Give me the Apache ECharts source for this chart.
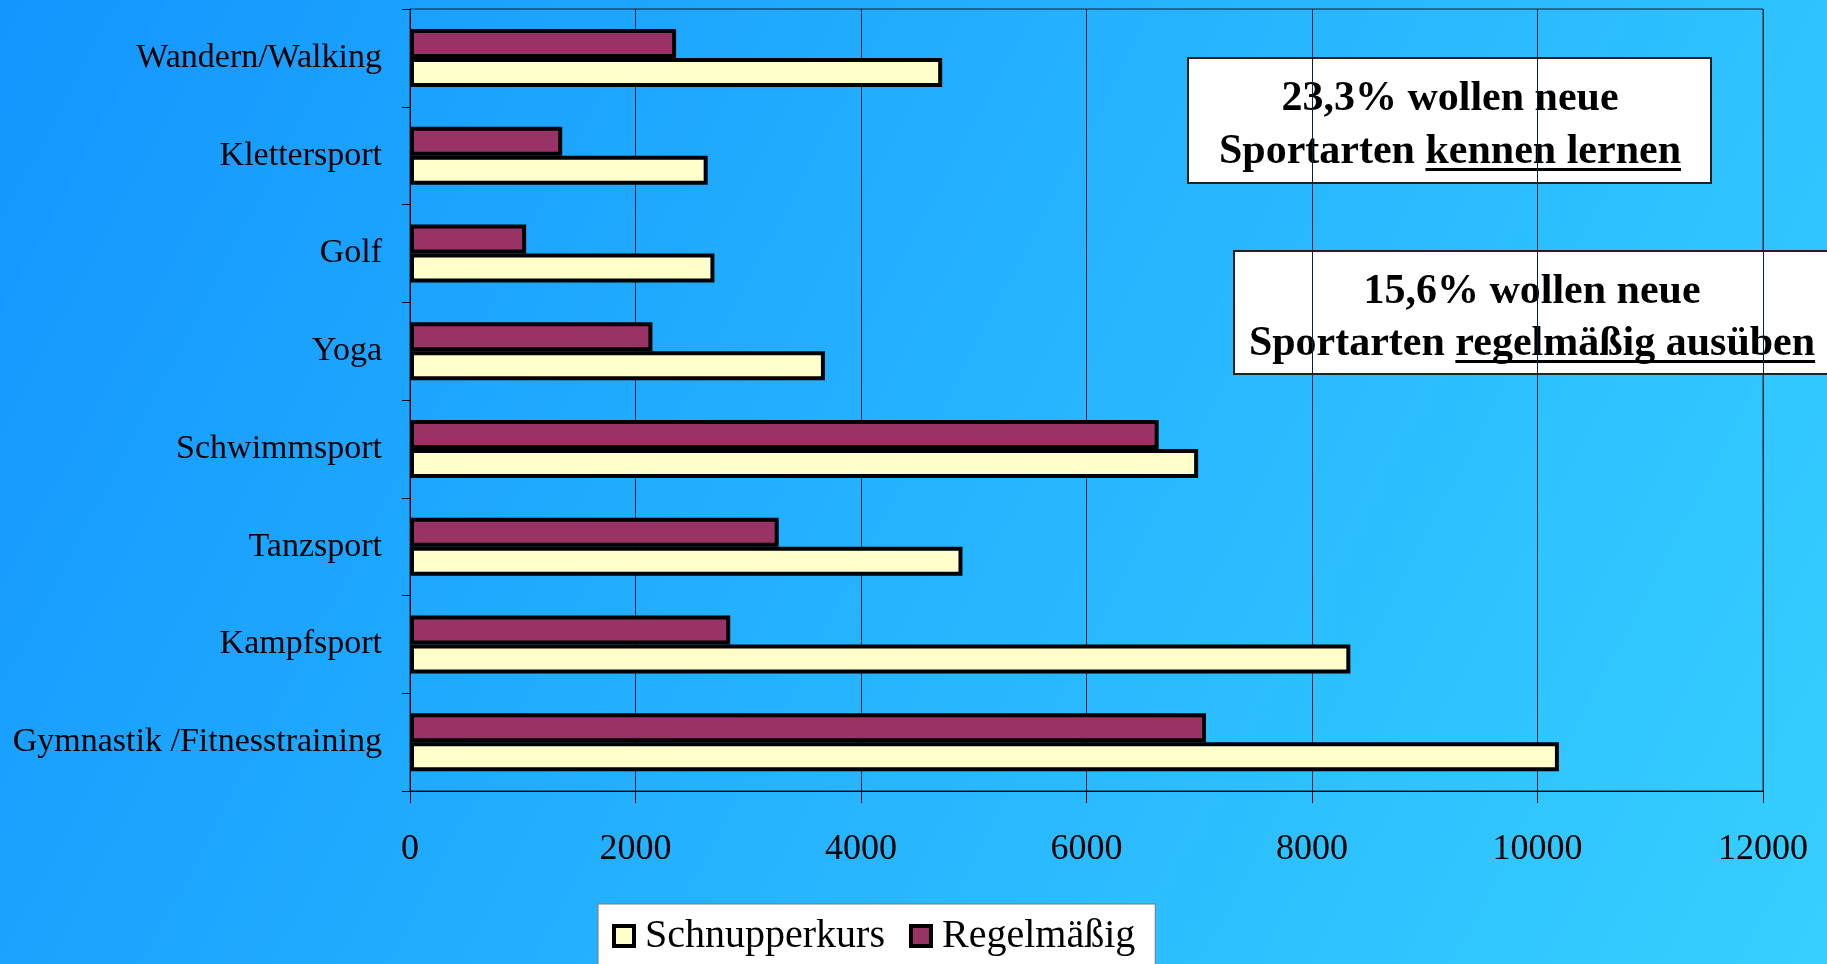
<!DOCTYPE html>
<html>
<head>
<meta charset="utf-8">
<title>Sportarten</title>
<script src="https://cdn.jsdelivr.net/npm/echarts@6/dist/echarts.min.js"></script>
<style>
  html, body { margin: 0; padding: 0; }
  #chart { width: 1827px; height: 964px; }
</style>
</head>
<body>
<div id="chart"></div>
<script>
// Kategorien von unten nach oben (wie die y-Achse sie zeichnet)
const categories = ['Gymnastik /Fitnesstraining', 'Kampfsport', 'Tanzsport', 'Schwimmsport', 'Yoga', 'Golf', 'Klettersport', 'Wandern/Walking']
const schnupperkurs = [10190, 8340, 4900, 6990, 3680, 2700, 2640, 4720]
const regelmaessig = [7060, 2840, 3270, 6640, 2150, 1030, 1350, 2360]
const seriesNames = ['Schnupperkurs', 'Regelmäßig']
const xMin = 0
const xMax = 12000
const xStep = 2000

const serif = '"Liberation Serif", "DejaVu Serif", serif'

// Textbreite messen, damit die Unterstreichung passt
const ctx = document.createElement('canvas').getContext('2d')
function textWidth(str, size) {
  ctx.font = 'bold ' + size + 'px ' + serif
  return ctx.measureText(str).width
}

// Kasten mit zwei Zeilen, zweiter Teil der unteren Zeile unterstrichen
function noteBox(box, line1, plain, underlined, cx, base1, base2) {
  const size = 42
  const w1 = textWidth(plain, size)
  const w2 = textWidth(underlined, size)
  const start = cx - (w1 + w2) / 2
  const font = { fontFamily: serif, fontWeight: 'bold', fontSize: size, fill: '#000' }
  return {
    type: 'group',
    children: [
      { type: 'rect', shape: box, style: { fill: '#fff', stroke: '#222', lineWidth: 2 } },
      { type: 'text', x: cx, y: base1 - 11, style: Object.assign({ text: line1, align: 'center', verticalAlign: 'middle' }, font) },
      { type: 'text', x: start, y: base2 - 11, style: Object.assign({ text: plain, align: 'left', verticalAlign: 'middle' }, font) },
      { type: 'text', x: start + w1, y: base2 - 11, style: Object.assign({ text: underlined, align: 'left', verticalAlign: 'middle' }, font) },
      { type: 'rect', shape: { x: start + w1, y: base2 + 5, width: w2, height: 3 }, style: { fill: '#000' } }
    ]
  }
}

const chart = echarts.init(document.getElementById('chart'))

chart.setOption({
  animation: false,
  backgroundColor: {
    type: 'linear', x: 0, y: 0, x2: 1, y2: 1,
    colorStops: [
      { offset: 0, color: '#1496fe' },
      { offset: 1, color: '#36cfff' }
    ]
  },
  grid: {
    left: 410,
    right: 64,
    top: 9,
    bottom: 173,
    show: true,
    borderColor: '#0b2236',
    borderWidth: 1
  },
  legend: {
    data: seriesNames,
    left: 598,
    top: 904,
    padding: [12, 20, 40, 14],
    backgroundColor: '#fff',
    borderColor: '#777',
    borderWidth: 1,
    itemWidth: 20,
    itemHeight: 20,
    itemGap: 24,
    icon: 'rect',
    itemStyle: { borderColor: '#000', borderWidth: 4 },
    textStyle: {
      fontFamily: serif,
      fontSize: 40,
      color: '#000',
      padding: [4, 0, 0, 6]
    }
  },
  xAxis: {
    type: 'value',
    min: xMin,
    max: xMax,
    interval: xStep,
    axisLine: { show: true, lineStyle: { color: '#000', width: 1 } },
    axisTick: { show: true, length: 12, lineStyle: { color: '#000' } },
    axisLabel: {
      margin: 41,
      fontFamily: serif,
      fontSize: 36,
      color: '#000',
      formatter: function (v) { return String(v) }
    },
    splitLine: { show: true, lineStyle: { color: '#0b2236', width: 1 } }
  },
  yAxis: {
    type: 'category',
    data: categories,
    axisLine: { show: true, lineStyle: { color: '#000', width: 1 } },
    axisTick: { show: true, length: 8, lineStyle: { color: '#000' } },
    axisLabel: { margin: 28, fontFamily: serif, fontSize: 34, color: '#000' }
  },
  // Regelmäßig zuerst, damit der violette Balken oben liegt
  series: [
    {
      name: seriesNames[1],
      type: 'bar',
      data: regelmaessig,
      barWidth: 29,
      barGap: '0%',
      itemStyle: { color: '#993366', borderColor: '#000', borderWidth: 4 }
    },
    {
      name: seriesNames[0],
      type: 'bar',
      data: schnupperkurs,
      barWidth: 29,
      barGap: '0%',
      itemStyle: { color: '#ffffcc', borderColor: '#000', borderWidth: 4 }
    }
  ],
  graphic: [
    noteBox({ x: 1188, y: 58, width: 523, height: 125 }, '23,3% wollen neue', 'Sportarten ', 'kennen lernen', 1450, 110, 163),
    noteBox({ x: 1234, y: 251, width: 640, height: 123 }, '15,6% wollen neue', 'Sportarten ', 'regelmäßig ausüben', 1532, 303, 355)
  ]
})
</script>
</body>
</html>
